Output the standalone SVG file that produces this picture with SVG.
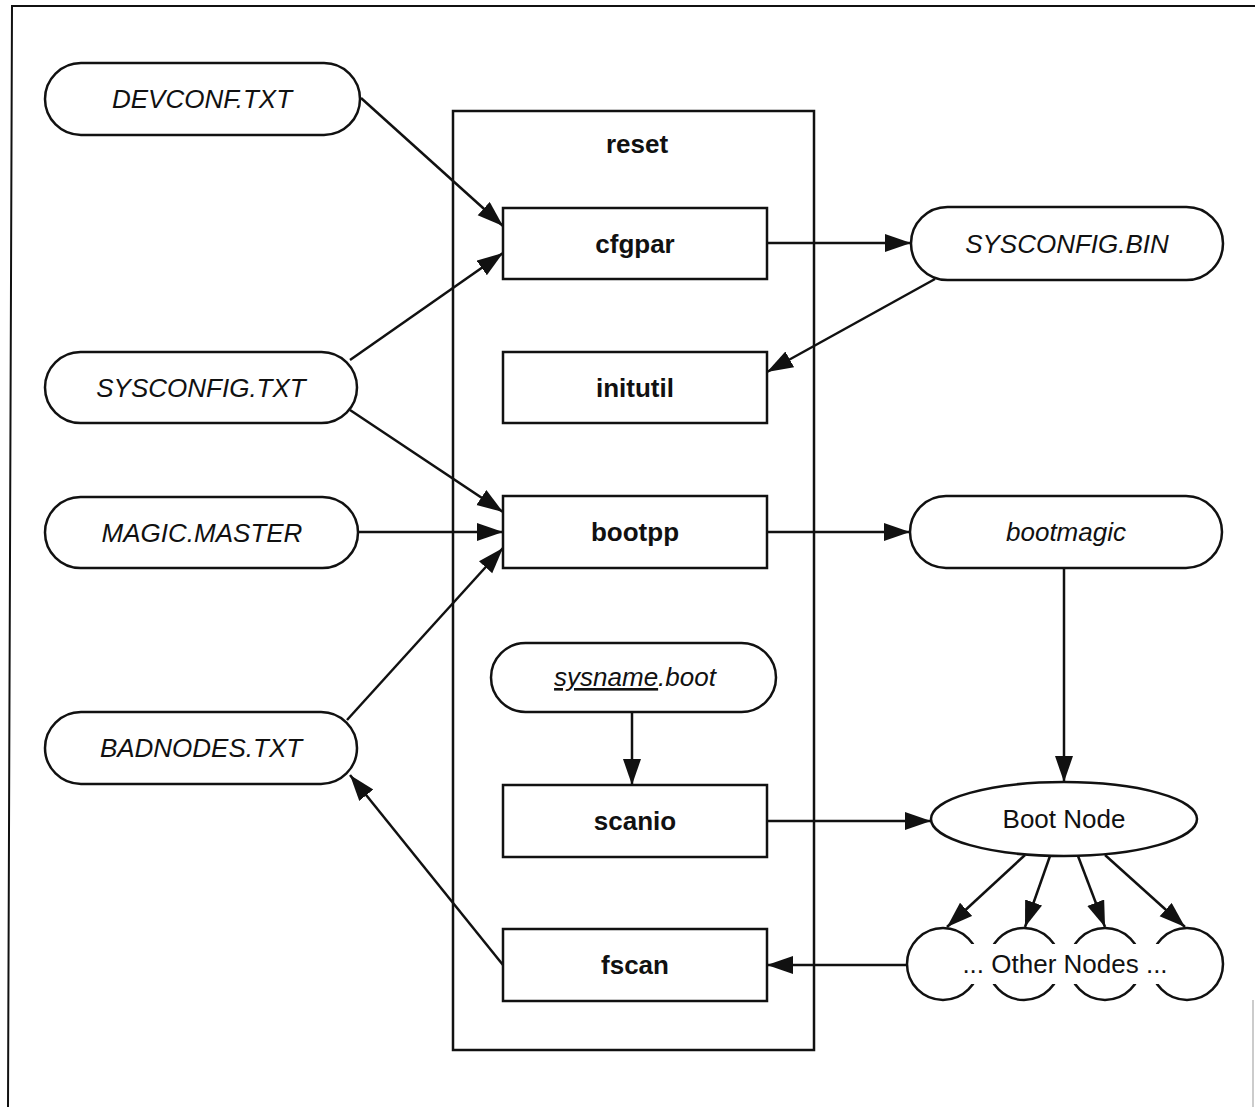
<svg xmlns="http://www.w3.org/2000/svg" width="1255" height="1107" viewBox="0 0 1255 1107">
  <style>
    .frame { fill: none; stroke: #111; stroke-width: 2; }
    .shape { fill: #fff; stroke: #111; stroke-width: 2.5; }
    .edge { fill: none; stroke: #111; stroke-width: 2.5; marker-end: url(#arrow); }
    .file { font-family: "Liberation Sans", Arial, sans-serif; font-size: 26px; font-style: italic; fill: #111; text-anchor: middle; }
    .proc { font-family: "Liberation Sans", Arial, sans-serif; font-size: 26px; font-weight: bold; fill: #111; text-anchor: middle; }
    .plain { font-family: "Liberation Sans", Arial, sans-serif; font-size: 26px; fill: #111; text-anchor: middle; }
  </style>
  <defs>
    <marker id="arrow" markerUnits="userSpaceOnUse" markerWidth="27" markerHeight="19" refX="26" refY="9" orient="auto">
      <path d="M0,0 L26,9 L0,18 Z" fill="#111"/>
    </marker>
  </defs>

  <rect width="1255" height="1107" fill="#fff"/>

  <!-- page frame -->
  <path class="frame" d="M1255,6 L12,6 L8,1107"/>
  <path d="M1253,1000 L1253,1107" stroke="#bbb" stroke-width="1.5" fill="none"/>

  <!-- reset container -->
  <g id="reset">
    <rect class="shape" x="453" y="111" width="361" height="939" fill="none"/>
    <text class="proc" x="637" y="153">reset</text>
  </g>

  <!-- input / output files -->
  <g id="devconf">
    <rect class="shape" x="45" y="63" width="315" height="72" rx="36"/>
    <text class="file" x="202" y="108">DEVCONF.TXT</text>
  </g>
  <g id="sysconfig-txt">
    <rect class="shape" x="45" y="352" width="312" height="71" rx="35.5"/>
    <text class="file" x="201" y="397">SYSCONFIG.TXT</text>
  </g>
  <g id="magic-master">
    <rect class="shape" x="45" y="497" width="313" height="71" rx="35.5"/>
    <text class="file" x="202" y="542">MAGIC.MASTER</text>
  </g>
  <g id="badnodes">
    <rect class="shape" x="45" y="712" width="312" height="72" rx="36"/>
    <text class="file" x="201" y="757">BADNODES.TXT</text>
  </g>
  <g id="sysconfig-bin">
    <rect class="shape" x="911" y="207" width="312" height="73" rx="36.5"/>
    <text class="file" x="1067" y="253">SYSCONFIG.BIN</text>
  </g>
  <g id="bootmagic">
    <rect class="shape" x="910" y="496" width="312" height="72" rx="36"/>
    <text class="file" x="1066" y="541">bootmagic</text>
  </g>
  <g id="sysname-boot">
    <rect class="shape" x="491" y="643" width="285" height="69" rx="34.5"/>
    <text class="file" x="635" y="686"><tspan text-decoration="underline">sysname</tspan>.boot</text>
  </g>

  <!-- programs -->
  <g id="cfgpar">
    <rect class="shape" x="503" y="208" width="264" height="71"/>
    <text class="proc" x="635" y="253">cfgpar</text>
  </g>
  <g id="initutil">
    <rect class="shape" x="503" y="352" width="264" height="71"/>
    <text class="proc" x="635" y="397">initutil</text>
  </g>
  <g id="bootpp">
    <rect class="shape" x="503" y="496" width="264" height="72"/>
    <text class="proc" x="635" y="541">bootpp</text>
  </g>
  <g id="scanio">
    <rect class="shape" x="503" y="785" width="264" height="72"/>
    <text class="proc" x="635" y="830">scanio</text>
  </g>
  <g id="fscan">
    <rect class="shape" x="503" y="929" width="264" height="72"/>
    <text class="proc" x="635" y="974">fscan</text>
  </g>

  <!-- nodes -->
  <g id="boot-node">
    <ellipse class="shape" cx="1064" cy="819" rx="133" ry="37"/>
    <text class="plain" x="1064" y="828">Boot Node</text>
  </g>
  <g id="other-nodes">
    <circle class="shape" cx="943" cy="964" r="36"/>
    <circle class="shape" cx="1024" cy="964" r="36"/>
    <circle class="shape" cx="1105" cy="964" r="36"/>
    <circle class="shape" cx="1187" cy="964" r="36"/>
    <rect x="964" y="944" width="200" height="40" fill="#fff"/>
    <text class="plain" x="1065" y="973">... Other Nodes ...</text>
  </g>

  <!-- connectors -->
  <g id="connectors">
    <path class="edge" d="M361,98 L503,226"/>
    <path class="edge" d="M350,360 L503,253"/>
    <path class="edge" d="M350,410 L503,512"/>
    <path class="edge" d="M358,532 L503,532"/>
    <path class="edge" d="M347,720 L503,548"/>
    <path class="edge" d="M767,243 L911,243"/>
    <path class="edge" d="M935,279 L767,372"/>
    <path class="edge" d="M767,532 L910,532"/>
    <path class="edge" d="M1064,568 L1064,782"/>
    <path class="edge" d="M632,712 L632,785"/>
    <path class="edge" d="M767,821 L931,821"/>
    <path class="edge" d="M1025,855 L947,927"/>
    <path class="edge" d="M1050,856 L1025,927"/>
    <path class="edge" d="M1078,856 L1105,927"/>
    <path class="edge" d="M1105,855 L1185,927"/>
    <path class="edge" d="M907,965 L767,965"/>
    <path class="edge" d="M503,965 L350,775"/>
  </g>
</svg>
